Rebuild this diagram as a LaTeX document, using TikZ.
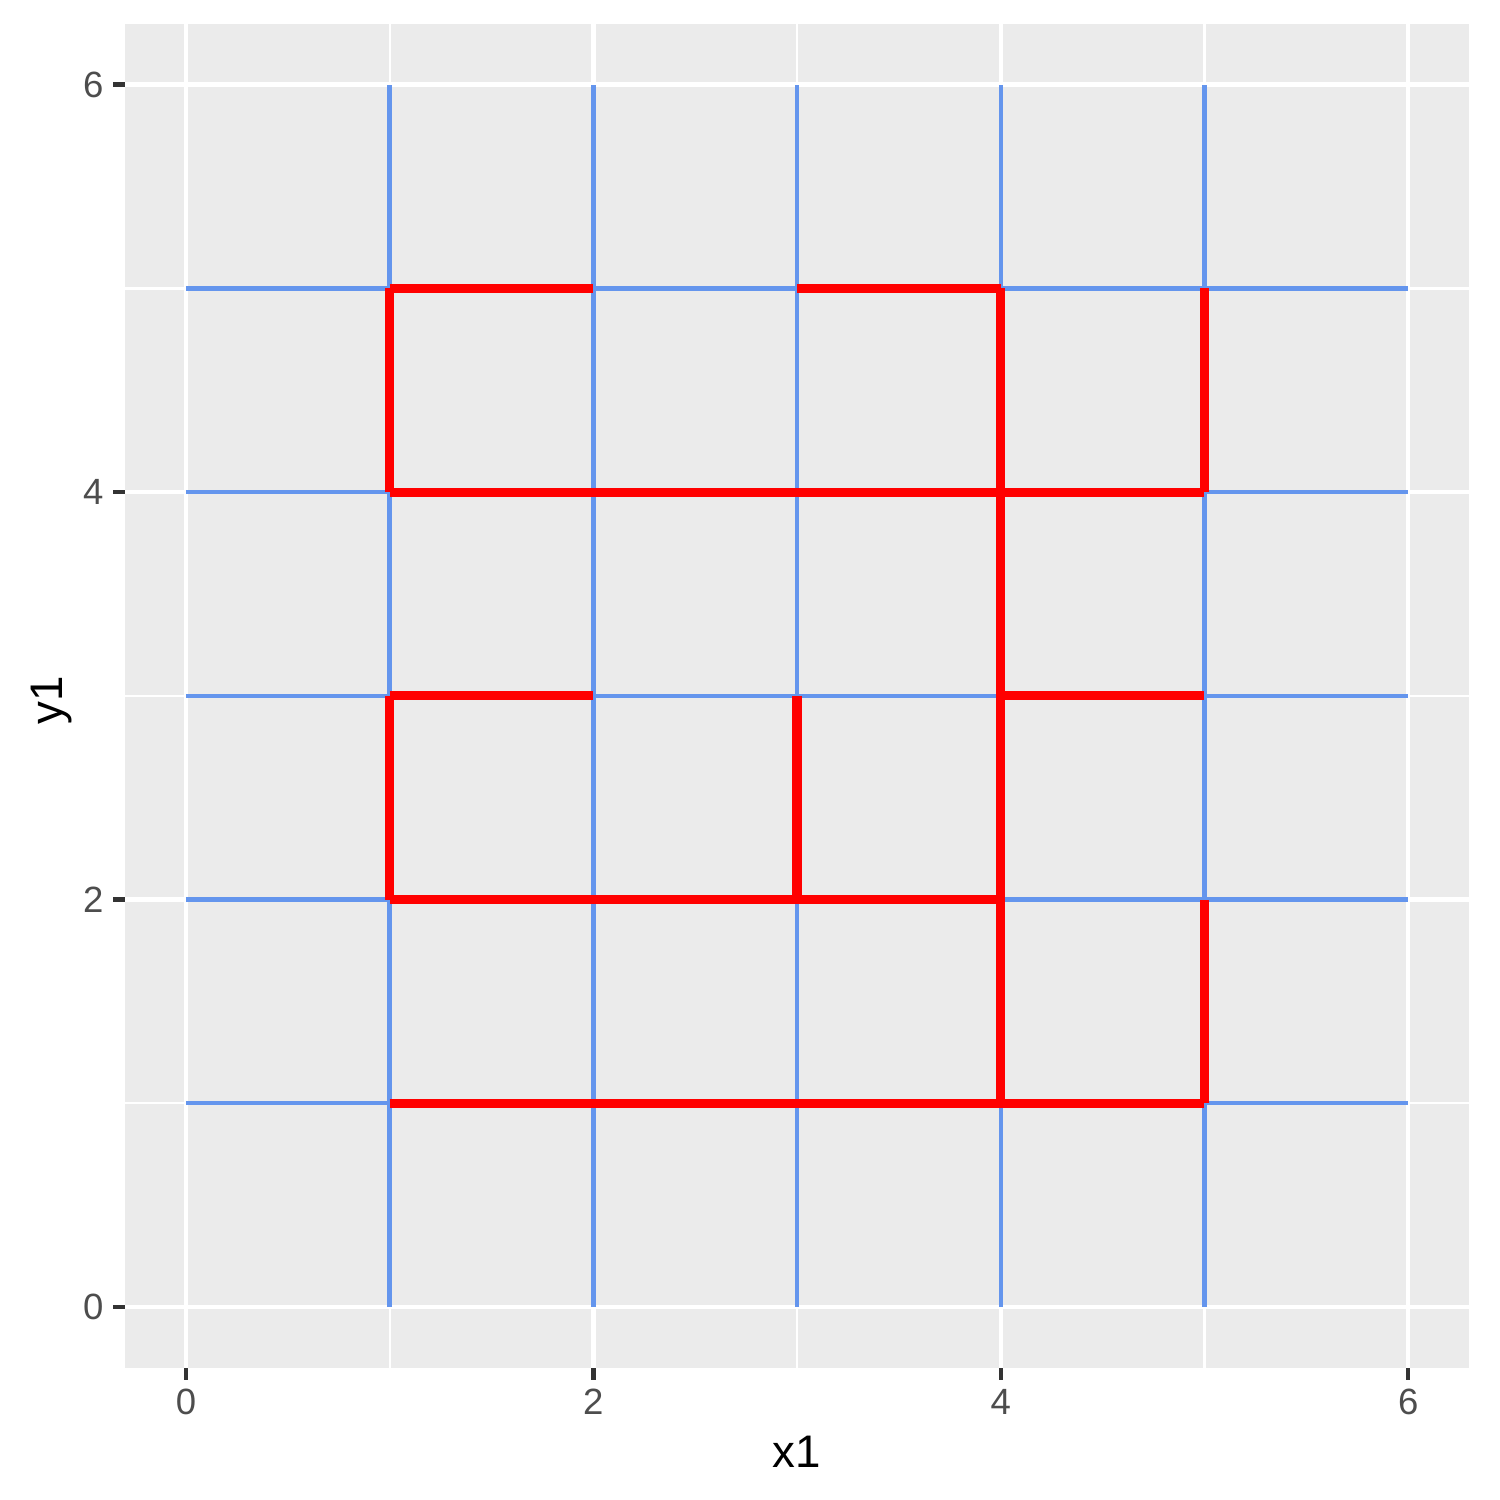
\documentclass[tikz,border=0pt]{standalone}
\usepackage{fontspec}
\setmainfont{Liberation Sans}
\usepackage{xcolor}
\usepackage{tikz}
\definecolor{panelgrey}{HTML}{EBEBEB}
\definecolor{cellblue}{HTML}{6495ED}
\definecolor{pathred}{HTML}{FF0000}
\definecolor{tickgrey}{HTML}{333333}
\definecolor{labelgrey}{HTML}{4D4D4D}
\begin{document}
\begin{tikzpicture}[
  x=48.9bp,
  y=48.9bp,
  major/.style={draw=white, line width=1.07bp},
  minor/.style={draw=white, line width=0.53bp},
  cell/.style={draw=cellblue, line width=1.07bp},
  wall/.style={draw=pathred, line width=2.2bp},
  tickmark/.style={draw=tickgrey, line width=1.07bp},
  ticklab/.style={text=labelgrey, font=\fontsize{8.8}{10}\selectfont, inner sep=0pt},
  axtitle/.style={text=black, font=\fontsize{11}{13}\selectfont, inner sep=0pt}
]
\useasboundingbox (-0.9127,-0.9475) rectangle (6.447,6.416);
% panel and grid
\fill[panelgrey] (-0.3,-0.3) rectangle (6.3,6.3);
\foreach \v in {1,3,5} {
  \draw[minor] (\v,-0.3) -- (\v,6.3);
  \draw[minor] (-0.3,\v) -- (6.3,\v);
}
\foreach \v in {0,2,4,6} {
  \draw[major] (\v,-0.3) -- (\v,6.3);
  \draw[major] (-0.3,\v) -- (6.3,\v);
}
% blue cell lines
\foreach \v in {1,...,5} {
  \draw[cell] (\v,0) -- (\v,6);
  \draw[cell] (0,\v) -- (6,\v);
}
% red segments
\foreach \a/\b in {{1,5}/{2,5}, {3,5}/{4,5}, {1,4}/{1,5}, {4,4}/{4,5}, {5,4}/{5,5},
  {1,4}/{5,4}, {4,1}/{4,4}, {1,3}/{2,3}, {4,3}/{5,3}, {1,2}/{1,3}, {3,2}/{3,3},
  {1,2}/{4,2}, {5,1}/{5,2}, {1,1}/{5,1}}
  \draw[wall] (\a) -- (\b);
% axes ticks and labels
\foreach \v in {0,2,4,6} {
  \draw[tickmark] (-0.3,\v) -- ++(-2.75pt,0);
  \node[ticklab, anchor=east] (ylab\v) at ([xshift=-4.95pt]-0.3,\v) {\v};
  \draw[tickmark] (\v,-0.3) -- ++(0,-2.75pt);
  \node[ticklab, anchor=north] (xlab\v) at ([yshift=-4.95pt]\v,-0.3) {\v};
}
\node[axtitle] (xtitle) at (3,-0.712) {x1};
\node[axtitle, rotate=90] (ytitle) at (-0.662,2.98) {y1};
\end{tikzpicture}
\end{document}
